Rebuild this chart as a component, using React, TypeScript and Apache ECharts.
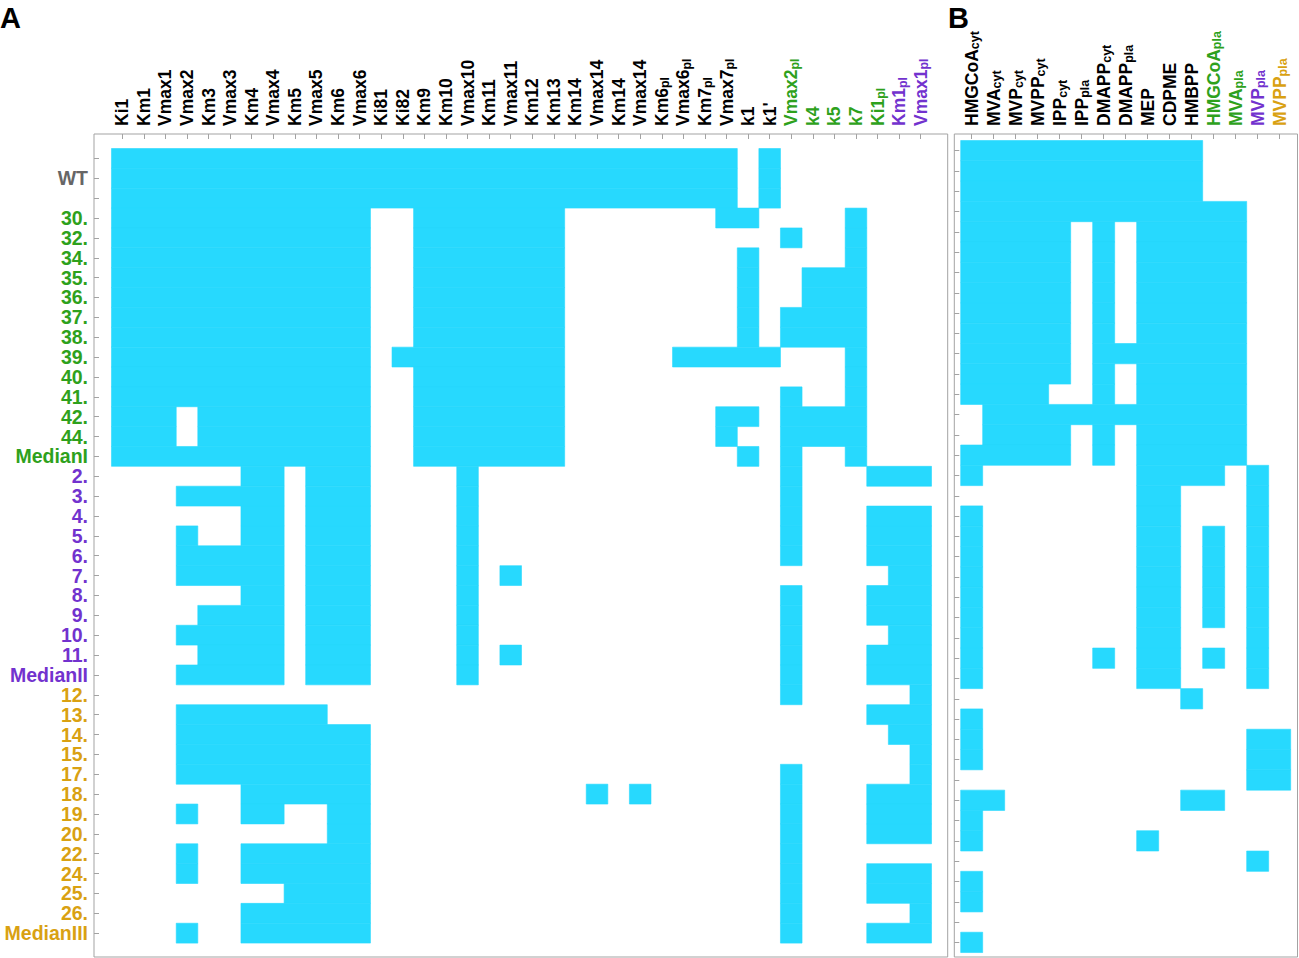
import React, { useEffect, useRef } from "react";
import * as echarts from "echarts";

// ---------- data ----------
const colsA = [
  "Ki1", "Km1", "Vmax1", "Vmax2", "Km3", "Vmax3", "Km4", "Vmax4", "Km5", "Vmax5",
  "Km6", "Vmax6", "Ki81", "Ki82", "Km9", "Km10", "Vmax10", "Km11", "Vmax11", "Km12",
  "Km13", "Km14", "Vmax14", "Km14", "Vmax14", "Km6_pl", "Vmax6_pl", "Km7_pl", "Vmax7_pl",
  "k1", "k1'", "Vmax2_pl", "k4", "k5", "k7", "Ki1_pl", "Km1_pl", "Vmax1_pl",
];
const colColorA = [
  "k", "k", "k", "k", "k", "k", "k", "k", "k", "k",
  "k", "k", "k", "k", "k", "k", "k", "k", "k", "k",
  "k", "k", "k", "k", "k", "k", "k", "k", "k",
  "k", "k", "g", "g", "g", "g", "g", "p", "p",
];
const colsB = [
  "HMGCoA_cyt", "MVA_cyt", "MVP_cyt", "MVPP_cyt", "IPP_cyt", "IPP_pla", "DMAPP_cyt",
  "DMAPP_pla", "MEP", "CDPME", "HMBPP", "HMGCoA_pla", "MVA_pla", "MVP_pla", "MVPP_pla",
];
const colColorB = ["k", "k", "k", "k", "k", "k", "k", "k", "k", "k", "k", "g", "g", "p", "o"];

const rowLabels = [
  "", "WT", "",
  "30.", "32.", "34.", "35.", "36.", "37.", "38.", "39.", "40.", "41.", "42.", "44.", "MedianI",
  "2.", "3.", "4.", "5.", "6.", "7.", "8.", "9.", "10.", "11.", "MedianII",
  "12.", "13.", "14.", "15.", "17.", "18.", "19.", "20.", "22.", "24.", "25.", "26.", "MedianIII",
];
const rowColor = [
  "w", "w", "w",
  "g", "g", "g", "g", "g", "g", "g", "g", "g", "g", "g", "g", "g",
  "p", "p", "p", "p", "p", "p", "p", "p", "p", "p", "p",
  "o", "o", "o", "o", "o", "o", "o", "o", "o", "o", "o", "o", "o",
];

// panel A: 1 = parameter present (cyan), one string per row, 38 columns
const heatA = [
  "111111111111 11 1111111 1111111 101 0000 000",
  "111111111111 11 1111111 1111111 101 0000 000",
  "111111111111 11 1111111 1111111 101 0000 000",
  "111111111111 00 1111111 0000000 110 0001 000",
  "111111111111 00 1111111 0000000 000 1001 000",
  "111111111111 00 1111111 0000000 010 0001 000",
  "111111111111 00 1111111 0000000 010 0111 000",
  "111111111111 00 1111111 0000000 010 0111 000",
  "111111111111 00 1111111 0000000 010 1111 000",
  "111111111111 00 1111111 0000000 010 1111 000",
  "111111111111 01 1111111 0000011 111 0001 000",
  "111111111111 00 1111111 0000000 000 0001 000",
  "111111111111 00 1111111 0000000 000 1001 000",
  "111011111111 00 1111111 0000000 110 1111 000",
  "111011111111 00 1111111 0000000 100 1111 000",
  "111111111111 00 1111111 0000000 010 1001 000",
  "000 000 11 0 111 0000 1 0 0 000000000000 1 000 111",
  "000 111 11 0 111 0000 1 0 0 000000000000 1 000 000",
  "000 000 11 0 111 0000 1 0 0 000000000000 1 000 111",
  "000 100 11 0 111 0000 1 0 0 000000000000 1 000 111",
  "000 111 11 0 111 0000 1 0 0 000000000000 1 000 111",
  "000 111 11 0 111 0000 1 0 1 000000000000 0 000 011",
  "000 000 11 0 111 0000 1 0 0 000000000000 1 000 111",
  "000 011 11 0 111 0000 1 0 0 000000000000 1 000 111",
  "000 111 11 0 111 0000 1 0 0 000000000000 1 000 011",
  "000 011 11 0 111 0000 1 0 1 000000000000 1 000 111",
  "000 111 11 0 111 0000 1 0 0 000000000000 1 000 111",
  "000 0 00 00 00 00 0000000000 0 0 0 000000 1 000 0 0 1",
  "000 1 11 11 11 00 0000000000 0 0 0 000000 0 000 1 1 1",
  "000 1 11 11 11 11 0000000000 0 0 0 000000 0 000 0 1 1",
  "000 1 11 11 11 11 0000000000 0 0 0 000000 0 000 0 0 1",
  "000 1 11 11 11 11 0000000000 0 0 0 000000 1 000 0 0 1",
  "000 0 00 11 11 11 0000000000 1 0 1 000000 1 000 1 1 1",
  "000 1 00 11 00 11 0000000000 0 0 0 000000 1 000 1 1 1",
  "000 0 00 00 00 11 0000000000 0 0 0 000000 1 000 1 1 1",
  "000 1 00 11 11 11 0000000000 0 0 0 000000 1 000 0 0 0",
  "000 1 00 11 11 11 0000000000 0 0 0 000000 1 000 1 1 1",
  "000 0 00 00 11 11 0000000000 0 0 0 000000 1 000 1 1 1",
  "000 0 00 11 11 11 0000000000 0 0 0 000000 1 000 0 0 1",
  "000 1 00 11 11 11 0000000000 0 0 0 000000 1 000 1 1 1",
];

// panel B: 15 columns
const heatB = [
  "11111 1 1 1 11100 00",
  "11111 1 1 1 11100 00",
  "11111 1 1 1 11100 00",
  "11111 1 1 1 11111 00",
  "11111 0 1 0 11111 00",
  "11111 0 1 0 11111 00",
  "11111 0 1 0 11111 00",
  "11111 0 1 0 11111 00",
  "11111 0 1 0 11111 00",
  "11111 0 1 0 11111 00",
  "11111 0 1 1 11111 00",
  "11111 0 1 0 11111 00",
  "11110 0 1 0 11111 00",
  "01111 1 1 1 11111 00",
  "01111 0 1 0 11111 00",
  "11111 0 1 0 11111 00",
  "10000 0 0 0 11110 10",
  "00000 0 0 0 11000 10",
  "10000 0 0 0 11000 10",
  "10000 0 0 0 11010 10",
  "10000 0 0 0 11010 10",
  "10000 0 0 0 11010 10",
  "10000 0 0 0 11010 10",
  "10000 0 0 0 11010 10",
  "10000 0 0 0 11000 10",
  "10000 0 1 0 11010 10",
  "10000 0 0 0 11000 10",
  "00000 0 0 0 00100 00",
  "10000 0 0 0 00000 00",
  "10000 0 0 0 00000 11",
  "10000 0 0 0 00000 11",
  "00000 0 0 0 00000 11",
  "11000 0 0 0 00110 00",
  "10000 0 0 0 00000 00",
  "10000 0 0 0 10000 00",
  "00000 0 0 0 00000 10",
  "10000 0 0 0 00000 00",
  "10000 0 0 0 00000 00",
  "00000 0 0 0 00000 00",
  "10000 0 0 0 00000 00",
];

// ---------- styling ----------
const FONT = '"Liberation Sans", Arial, Helvetica, sans-serif';
const CYAN = "#27D9FE";
const FRAME = "#a3a3a3";
const COLORS: Record<string, string> = {
  k: "#000000",
  w: "#666666",
  g: "#2EA11C",
  p: "#7232CE",
  o: "#D9A112",
};

function runs(m: string[]) {
  const out: number[][] = [];
  m.forEach((raw, r) => {
    const s = raw.replace(/ /g, "");
    let c = 0;
    while (c < s.length) {
      if (s[c] === "1") {
        let e = c;
        while (e + 1 < s.length && s[e + 1] === "1") e++;
        out.push([c, e, r]);
        c = e + 1;
      } else c++;
    }
  });
  return out;
}

function colRich() {
  const rich: Record<string, any> = {};
  Object.keys(COLORS).forEach((k) => {
    rich[k] = {
      color: COLORS[k], fontSize: 17.5, fontWeight: "bold", fontFamily: FONT,
      lineHeight: 20, verticalAlign: "middle",
    };
    rich[k + "s"] = {
      color: COLORS[k], fontSize: 12.5, fontWeight: "bold", fontFamily: FONT,
      lineHeight: 9, verticalAlign: "bottom",
    };
  });
  return rich;
}
function rowRich() {
  const rich: Record<string, any> = {};
  Object.keys(COLORS).forEach((k) => {
    rich[k] = { color: COLORS[k], fontSize: 19.5, fontWeight: "bold", fontFamily: FONT, lineHeight: 12 };
  });
  return rich;
}
function colLabel(name: string, color: string) {
  const [main, sub] = name.split("_");
  return sub ? `{${color}|${main}}{${color}s|${sub}}` : `{${color}|${main}}`;
}

const idx = (n: number) => Array.from({ length: n }, (_, i) => i);

function renderCell(_params: any, api: any) {
  const c0 = api.value(0);
  const c1 = api.value(1);
  const r = api.value(2);
  const p0 = api.coord([c0 - 0.5, r - 0.5]);
  const p1 = api.coord([c1 + 0.5, r + 0.5]);
  return {
    type: "rect",
    shape: {
      x: Math.min(p0[0], p1[0]),
      y: Math.min(p0[1], p1[1]),
      width: Math.abs(p1[0] - p0[0]),
      height: Math.abs(p1[1] - p0[1]),
    },
    style: { fill: CYAN, stroke: CYAN, lineWidth: 0.6 },
  };
}

function buildOption() {
  const nRows = rowLabels.length;
  const tick = { show: true, inside: true, length: 5, lineStyle: { color: FRAME, width: 1 } };
  const noLine = { show: false, onZero: false };
  return {
    animation: false,
    backgroundColor: "#ffffff",
    graphic: [
      { type: "text", left: 0, top: 3, style: { text: "A", fontSize: 29, fontWeight: "bold", fontFamily: FONT, fill: "#000" } },
      { type: "text", left: 948, top: 3, style: { text: "B", fontSize: 29, fontWeight: "bold", fontFamily: FONT, fill: "#000" } },
    ],
    grid: [
      {
        left: 94, top: 134, width: 853.7, height: 823, show: true, borderColor: FRAME, borderWidth: 1,
        containLabel: false, outerBoundsMode: "none",
      },
      {
        left: 954.3, top: 134, width: 343.2, height: 823, show: true, borderColor: FRAME, borderWidth: 1,
        containLabel: false, outerBoundsMode: "none",
      },
    ],
    xAxis: [
      {
        type: "value", gridIndex: 0, position: "top", min: -1.31, max: 38.25,
        axisLine: noLine, splitLine: { show: false },
        axisTick: { ...tick, customValues: idx(colsA.length) },
        axisLabel: {
          customValues: idx(colsA.length), rotate: -90, margin: 8, rich: colRich(),
          showMinLabel: true, showMaxLabel: true, hideOverlap: false,
          formatter: (v: number) => {
            const i = Math.round(v);
            return colsA[i] ? colLabel(colsA[i], colColorA[i]) : "";
          },
        },
      },
      {
        type: "value", gridIndex: 1, position: "top", min: -0.79, max: 14.81,
        axisLine: noLine, splitLine: { show: false },
        axisTick: { ...tick, customValues: idx(colsB.length) },
        axisLabel: {
          customValues: idx(colsB.length), rotate: -90, margin: 8, rich: colRich(),
          showMinLabel: true, showMaxLabel: true, hideOverlap: false,
          formatter: (v: number) => {
            const i = Math.round(v);
            return colsB[i] ? colLabel(colsB[i], colColorB[i]) : "";
          },
        },
      },
    ],
    yAxis: [
      {
        type: "value", gridIndex: 0, inverse: true, min: -1.23, max: 40.2,
        axisLine: noLine, splitLine: { show: false },
        axisTick: { ...tick, customValues: idx(nRows) },
        axisLabel: {
          customValues: idx(nRows), margin: 6, rich: rowRich(),
          showMinLabel: true, showMaxLabel: true, hideOverlap: false,
          formatter: (v: number) => {
            const i = Math.round(v);
            return rowLabels[i] ? `{${rowColor[i]}|${rowLabels[i]}}` : "";
          },
        },
      },
      {
        type: "value", gridIndex: 1, inverse: true, min: -0.82, max: 39.72,
        axisLine: noLine, splitLine: { show: false },
        axisTick: { ...tick, customValues: idx(nRows) },
        axisLabel: { show: false },
      },
    ],
    series: [
      {
        type: "custom", xAxisIndex: 0, yAxisIndex: 0, silent: true,
        renderItem: renderCell, encode: { x: [0, 1], y: 2 },
        data: runs(heatA),
      },
      {
        type: "custom", xAxisIndex: 1, yAxisIndex: 1, silent: true,
        renderItem: renderCell, encode: { x: [0, 1], y: 2 },
        data: runs(heatB),
      },
    ],
  };
}

export default function App() {
  const ref = useRef<HTMLDivElement>(null);
  useEffect(() => {
    if (!ref.current) return;
    const chart = echarts.init(ref.current, null, { renderer: "svg" });
    chart.setOption(buildOption() as any);
    return () => chart.dispose();
  }, []);
  return (
    <div
      ref={ref}
      style={{ position: "absolute", left: 0, top: 0, width: 1299, height: 958, background: "#fff" }}
    />
  );
}
